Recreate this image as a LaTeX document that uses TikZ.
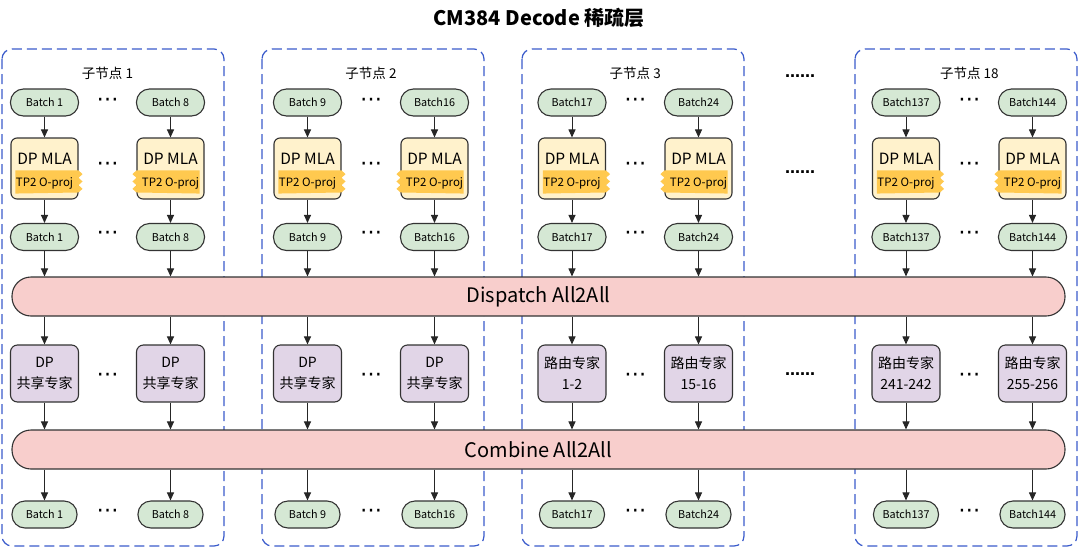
\documentclass[tikz,border=0pt]{standalone}
\usepackage{fontspec}
\setmainfont{Noto Sans CJK SC}
\newfontfamily\dejavu{DejaVu Sans}
\usetikzlibrary{arrows.meta,calc}
\definecolor{gfill}{HTML}{D5E8D4}
\definecolor{yfill}{HTML}{FFF2CC}
\definecolor{bandc}{HTML}{FFC94F}
\definecolor{pfill}{HTML}{E1D5E7}
\definecolor{rfill}{HTML}{F8CECC}
\definecolor{edge}{HTML}{333333}
\definecolor{grpblue}{HTML}{3A5BCB}
\pgfdeclarelayer{bg}
\pgfsetlayers{bg,main}
\tikzset{
  batchnode/.style={draw=edge, fill=gfill, line width=1.1pt, rounded corners=13pt,
    minimum width=68pt, minimum height=27pt, inner sep=0pt, font=\fontsize{10.8}{12}\selectfont},
  mlanode/.style={draw=edge, fill=yfill, line width=1.1pt, rounded corners=6pt,
    minimum width=67pt, minimum height=61pt, inner sep=0pt},
  mlatext/.style={inner sep=0pt, font=\fontsize{15.5}{18}\selectfont},
  bandtext/.style={inner sep=0pt, font=\fontsize{11.5}{13}\selectfont},
  band/.style={fill=bandc},
  expnode/.style={draw=edge, fill=pfill, line width=1.1pt, rounded corners=7pt,
    minimum width=68pt, minimum height=57pt, inner sep=0pt, align=center,
    font=\fontsize{14}{21}\selectfont},
  barnode/.style={draw=edge, fill=rfill, line width=1.1pt, rounded corners=19pt,
    minimum width=1053pt, minimum height=39pt, inner sep=0pt, font=\fontsize{20}{24}\selectfont},
  grpbox/.style={draw=grpblue, line width=1.2pt, dash pattern=on 10pt off 5pt, rounded corners=10pt},
  grplabel/.style={inner sep=0pt, font=\fontsize{13.5}{16}\selectfont},
  flow/.style={draw=black!85, line width=1pt, -{Triangle[length=8pt,width=7pt]}},
  dotsnode/.style={inner sep=0pt, font=\dejavu\fontsize{22}{22}\selectfont},
  bigdots/.style={inner sep=0pt, font=\dejavu\bfseries\fontsize{15}{15}\selectfont},
  titlenode/.style={inner sep=0pt, font=\bfseries\fontsize{20}{24}\selectfont}
}
\newcommand{\bandright}[1]{%
  \fill[band] ($(#1.north west)+(5,33)$) -- ($(#1.north east)+(0,33)$)
    -- ++(4,3.67) -- ++(-4,3.67) -- ++(4,3.67) -- ++(-4,3.67) -- ++(4,3.67) -- ++(-4,3.67)
    -- ($(#1.south west)+(5,-6)$) -- cycle;}
\newcommand{\bandleft}[1]{%
  \fill[band] ($(#1.north east)+(-5,33)$) -- ($(#1.north west)+(0,33)$)
    -- ++(-4,3.67) -- ++(4,3.67) -- ++(-4,3.67) -- ++(4,3.67) -- ++(-4,3.67) -- ++(4,3.67)
    -- ($(#1.south east)+(-5,-6)$) -- cycle;}
\newcommand{\nodecol}[5]{%
  \node[batchnode] (#1a) at (#2,102.5) {#3};
  \node[mlanode] (#1m) at (#2,168.5) {};
  \node[mlatext] (#1mt) at (#2,159) {DP MLA};
  #5{#1m}
  \node[bandtext] (#1bt) at (#2,183) {TP2 O-proj};
  \node[batchnode] (#1b) at (#2,237) {#3};
  \node[expnode] (#1e) at (#2,373.5) {#4};
  \node[batchnode, minimum width=65pt] (#1c) at (#2,514.5) {#3};
  \draw[flow] (#1a) -- (#1m);
  \draw[flow] (#1m) -- (#1b);
  \draw[flow] (#1b) -- (#1b |- disp.north);
  \draw[flow] (disp.south -| #1e) -- (#1e);
  \draw[flow] (#1e) -- (#1e |- comb.north);
  \draw[flow] (comb.south -| #1c) -- (#1c);
}
% #1 id, #2 L, #3 c1, #4 c2, #5 label, #6 bl, #7 br, #8 el, #9 er
\newcommand{\nodegroup}[9]{%
  \begin{pgfonlayer}{bg}
    \draw[grpbox] (#2,49) rectangle ++(222,497);
  \end{pgfonlayer}
  \node[grplabel] (lab#1) at ({(#3+#4)/2},73) {#5};
  \nodecol{g#1l}{#3}{#6}{#8}{\bandright}
  \nodecol{g#1r}{#4}{#7}{#9}{\bandleft}
  \foreach \yy [count=\i] in {102,166,235,377,513}{
    \node[dotsnode] (dots#1-\i) at ({(#3+#4)/2},\yy) {⋯};
  }
}
\begin{document}
\begin{tikzpicture}[x=1pt,y=-1pt]
\useasboundingbox (0,0) rectangle (1080,547);
\node[titlenode] (title) at (539,17.5) {CM384 Decode 稀疏层};
\node[barnode] (disp) at (538.5,296.5) {Dispatch All2All};
\node[barnode] (comb) at (538.5,449.5) {Combine All2All};
\nodegroup{1}{2}{44.5}{170.5}{子节点 1}{Batch 1}{Batch 8}{DP\\共享专家}{DP\\共享专家}
\nodegroup{2}{262}{307.5}{434.5}{子节点 2}{Batch 9}{Batch16}{DP\\共享专家}{DP\\共享专家}
\nodegroup{3}{522}{572}{698.5}{子节点 3}{Batch17}{Batch24}{路由专家\\1-2}{路由专家\\15-16}
\nodegroup{4}{855}{906}{1032.5}{子节点 18}{Batch137}{Batch144}{路由专家\\241-242}{路由专家\\255-256}
\node[bigdots] (gap1) at (800,76) {……};
\node[bigdots] (gap2) at (800,172) {……};
\node[bigdots] (gap3) at (800,374) {……};
\end{tikzpicture}
\end{document}
